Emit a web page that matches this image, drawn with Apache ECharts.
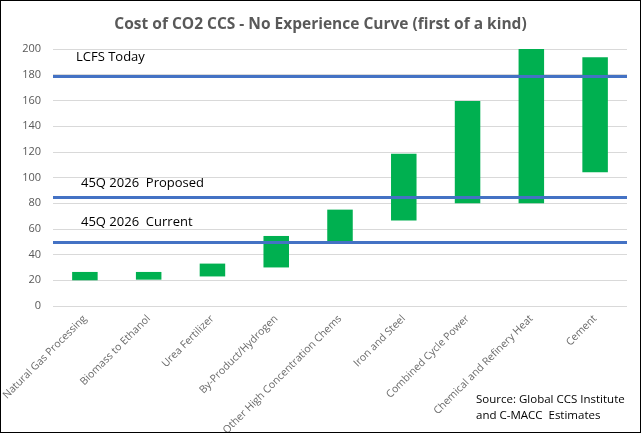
<!DOCTYPE html>
<html>
<head>
<meta charset="utf-8">
<script src="https://cdn.jsdelivr.net/npm/echarts@6/dist/echarts.min.js"></script>
<style>
html, body { margin:0; padding:0; background:#fff; }
#view1 { width:639px; height:431px; border:1px solid #000; }
</style>
</head>
<body>
<div id="view1"></div>
<script>
"use strict";
var categories = ['Natural Gas Processing', 'Biomass to Ethanol', 'Urea Fertilizer', 'By-Product/Hydrogen',
	'Other High Concentration Chems', 'Iron and Steel', 'Combined Cycle Power', 'Chemical and Refinery Heat', 'Cement'];
var costLow  = [20, 20.5, 23, 30, 50, 66.5, 80, 80, 104];
var costHigh = [26.5, 26.5, 33, 54.5, 75, 118.5, 159.5, 200, 193.5];
var refLines = [
	{ name:'LCFS Today', value:179 },
	{ name:'45Q 2026 Proposed', value:85 },
	{ name:'45Q 2026 Current', value:49.5 }
];

var textCol = '#595959';
var span = costHigh.map(function(d, i){ return +(d - costLow[i]).toFixed(1); });

var option = {
	animation: false,
	title: { text: 'Cost of CO2 CCS - No Experience Curve (first of a kind)', left: 'center', top: 11,
		textStyle: { fontFamily: 'Open Sans', fontSize: 15.5, fontWeight: 'bold', color: textCol } },
	grid: { left: 52, right: 13, top: 48, bottom: 126, containLabel: false, outerBoundsMode: 'none' },
	xAxis: { type: 'category', data: categories,
		axisLine: { show: false }, axisTick: { show: false },
		axisLabel: { interval: 0, rotate: 45, fontFamily: 'Open Sans', fontSize: 10.5, color: '#6b6b6b', margin: 11 } },
	yAxis: { type: 'value', min: 0, max: 200, interval: 20,
		axisLabel: { fontFamily: 'Open Sans', fontSize: 11, color: textCol, margin: 12 },
		splitLine: { lineStyle: { color: '#D9D9D9', width: 1 } } },
	series: [
		{ type: 'bar', stack: 'c', data: costLow, barWidth: '40%', itemStyle: { color: 'transparent' }, silent: true },
		{ type: 'bar', stack: 'c', data: span, itemStyle: { color: '#00B050' },
		  markLine: { symbol: 'none', silent: true, label: { show: false },
			lineStyle: { color: '#4472C4', width: 3, type: 'solid' },
			data: refLines.map(function(d){ return { yAxis: d.value, name: d.name }; }) } }
	],
	graphic: [
		{ type: 'text', left: 75, top: 50, style: { text: 'LCFS Today', font: '13px "Open Sans"', fill: '#000' } },
		{ type: 'text', left: 80, top: 176, style: { text: '45Q 2026  Proposed', font: '13px "Open Sans"', fill: '#000' } },
		{ type: 'text', left: 80, top: 215, style: { text: '45Q 2026  Current', font: '13px "Open Sans"', fill: '#000' } },
		{ type: 'text', left: 475, top: 391, style: { text: 'Source: Global CCS Institute\nand C-MACC  Estimates',
			font: '11.5px "Open Sans"', fill: '#000', lineHeight: 16 } }
	]
};
var myChart = echarts.init(document.getElementById('view1'));
myChart.setOption(option);
</script>
</body>
</html>
